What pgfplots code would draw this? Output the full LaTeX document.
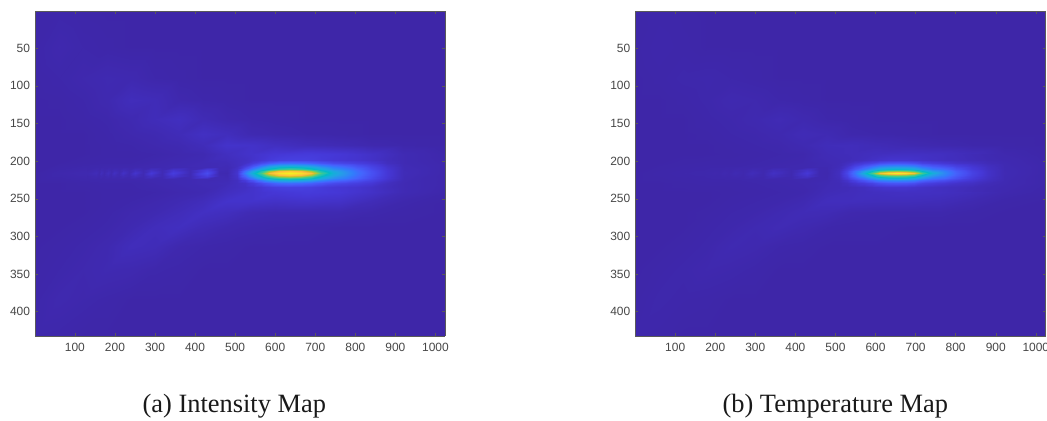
\documentclass[border=0pt]{standalone}
\usepackage{fontspec}
\setmainfont{Liberation Sans}
\newfontfamily\capfont{Liberation Serif}
\usepackage{pgfplots}
\pgfplotsset{compat=1.18}
\pgfplotsset{colormap={parula}{
rgb=(0.2422,0.1504,0.6603) rgb=(0.2706,0.2147,0.8364) rgb=(0.2813,0.3006,0.9414) rgb=(0.2699,0.3892,0.9906)
rgb=(0.1963,0.4847,0.9892) rgb=(0.1687,0.5703,0.9359) rgb=(0.1248,0.6459,0.8883) rgb=(0.0689,0.6948,0.8394)
rgb=(0.0067,0.7312,0.7660) rgb=(0.1408,0.7584,0.6842) rgb=(0.2161,0.7843,0.5923) rgb=(0.3909,0.8029,0.4354)
rgb=(0.6174,0.7876,0.2612) rgb=(0.8203,0.7498,0.1535) rgb=(0.9728,0.7298,0.2394) rgb=(0.9892,0.8136,0.1885)
rgb=(0.9597,0.9135,0.1423) rgb=(0.9769,0.9839,0.0805)}}
\definecolor{ticktext}{gray}{0.28}
\definecolor{tickline}{gray}{0.35}
\pgfplotsset{heat/.style={
  scale only axis, width=410.3bp, height=325bp,
  xmin=0.5, xmax=1024.5, ymin=0.5, ymax=432.5, y dir=reverse,
  view={0}{90}, axis on top, colormap name=parula,
  point meta min=0, point meta max=1,
  xtick={100,200,...,1000}, ytick={50,100,...,400},
  tick align=inside, major tick length=3bp,
  xticklabel pos=lower, yticklabel pos=left,
  tick style={tickline,line width=0.4bp},
  axis line style={tickline,line width=0.5bp},
  tick label style={font=\fontsize{12}{12}\selectfont,text=ticktext},
  x tick label style={yshift=-3.5bp},
  y tick label style={xshift=-1.5bp},
  /pgf/number format/assume math mode=true,
  /pgf/number format/1000 sep={},
}}
\newcommand\bgx{1,60,120,180,240,300,360,420,480,540,600,680,760,840,920,1024}
\newcommand\bgy{1,49,89,119,144,164,179,191,203,216,229,241,253,268,288,313,343,383,432}
\newcommand\lay{191,198,203,207,210,213,216,219,222,225,229,234,241}
\newcommand\lax{480,505,525,545,565,585,610,637,665,690,715,745,775,805,840,880,920}
\newcommand\lbx{480,510,530,550,570,590,610,630,653,677,695,715,740,770,800,840,880,920}
\newcommand\dtx{130,153,159,165,173,182,190,198,210,221,235,250,270,291,318,345,388,430,460,480}
\newcommand\dty{208,212,216,220,224}
\def\popv#1,#2\endpop{\gdef\val{#1}\gdef\rest{#2}}
\def\colloop#1,{\ifx\relax#1\relax\else\expandafter\popv\rest\endpop\xdef\acc{\acc(#1,\cy,\val)}\expandafter\colloop\fi}
\def\rowloop#1,{\ifx\relax#1\relax\else\gdef\cy{#1}\expandafter\colloop\curxl,\relax,\expandafter\rowloop\fi}
\newcommand\Lay[4]{\gdef\acc{}\gdef\rest{#4}\edef\curxl{#1}\edef\curyl{#2}%
  \expandafter\rowloop\curyl,\relax,%
  \edef\doit{\noexpand\addplot3[surf,shader=interp,mesh/cols=#3] coordinates {\acc};}\doit}
\begin{document}
\begin{tikzpicture}[x=1bp,y=1bp]
\path[use as bounding box] (0,0) rectangle (1047,420);
\begin{axis}[heat,at={(35bp,84bp)},anchor=south west]
\Lay{\bgx}{\bgy}{16}{%
.001,.003,.001,0,0,0,0,0,0,0,0,0,0,0,0,0,%
.002,.008,.004,.002,0,0,0,0,0,0,0,0,0,0,0,0,%
.001,.004,.008,.012,.01,.004,.002,0,0,0,0,0,0,0,0,0,%
0,.001,.004,.01,.024,.02,.008,.004,.002,0,0,0,0,0,0,0,%
0,0,.002,.005,.012,.022,.03,.016,.008,.004,.002,0,0,0,0,0,%
0,0,0,.003,.008,.012,.02,.034,.026,.012,.008,.004,.002,0,0,0,%
0,0,0,.002,.004,.008,.012,.022,.045,.042,.032,.022,.016,.008,.004,0,%
0,0,0,.002,.002,.004,.008,.012,.03,.045,.06,.07,.06,.04,.015,.004,%
0,0,.002,.004,.004,.008,.012,.016,.02,.03,.04,.05,.04,.03,.015,.006,%
0,.006,.01,.012,.012,.014,.016,.016,.01,.06,.5,.5,.25,.1,.02,.006,%
0,0,.002,.004,.004,.008,.012,.016,.02,.03,.04,.05,.04,.03,.015,.006,%
0,0,0,.002,.002,.004,.008,.012,.03,.045,.06,.07,.06,.04,.015,.004,%
0,0,0,.002,.004,.008,.014,.024,.045,.045,.04,.045,.04,.02,.006,0,%
0,0,0,.003,.008,.012,.022,.034,.028,.016,.012,.012,.012,.006,.002,0,%
0,0,.002,.005,.012,.024,.03,.018,.01,.006,.004,.002,0,0,0,0,%
0,.002,.005,.01,.024,.02,.008,.004,.002,0,0,0,0,0,0,0,%
.001,.004,.008,.012,.01,.005,.003,0,0,0,0,0,0,0,0,0,%
.003,.009,.006,.003,0,0,0,0,0,0,0,0,0,0,0,0,%
.004,.003,0,0,0,0,0,0,0,0,0,0,0,0,0,0,%
}
\Lay{\lax}{\lay}{17}{%
.03,.036,.041,.046,.052,.056,.061,.065,.068,.069,.066,.062,.056,.05,.04,.028,.015,%
.025,.03,.035,.045,.055,.07,.08,.085,.085,.08,.07,.06,.055,.05,.04,.025,.015,%
.02,.03,.04,.07,.11,.15,.19,.2,.19,.17,.14,.11,.095,.08,.06,.03,.015,%
.017,.03,.07,.14,.23,.32,.38,.4,.38,.34,.27,.21,.175,.13,.09,.045,.018,%
.014,.04,.13,.25,.37,.48,.57,.6,.57,.5,.39,.29,.24,.175,.11,.055,.02,%
.012,.045,.2,.36,.52,.70,.83,.87,.83,.72,.52,.37,.285,.20,.125,.06,.02,%
.01,.05,.24,.42,.6,.82,.92,.96,.92,.84,.6,.40,.30,.21,.13,.06,.02,%
.012,.045,.2,.36,.52,.70,.83,.87,.83,.72,.52,.37,.285,.20,.125,.06,.02,%
.014,.04,.13,.25,.37,.48,.57,.6,.57,.5,.39,.29,.24,.175,.11,.055,.02,%
.017,.03,.07,.14,.23,.32,.38,.4,.38,.34,.27,.21,.175,.13,.09,.045,.018,%
.02,.03,.04,.07,.11,.15,.19,.2,.19,.17,.14,.11,.095,.08,.06,.03,.015,%
.025,.03,.035,.045,.055,.07,.08,.085,.085,.08,.07,.06,.055,.05,.04,.025,.015,%
.03,.036,.041,.046,.052,.056,.061,.065,.068,.069,.066,.062,.056,.05,.04,.028,.015,%
}
\Lay{\dtx}{\dty}{20}{%
.005,.006,.006,.006,.007,.007,.007,.007,.007,.007,.007,.008,.009,.01,.011,.012,.014,.016,.017,.016,%
.006,.012,.008,.014,.009,.015,.01,.017,.011,.02,.012,.026,.013,.036,.015,.05,.016,.08,.016,.014,%
.01,.02,.01,.024,.011,.027,.012,.032,.013,.038,.014,.048,.015,.062,.016,.075,.016,.115,.012,.01,%
.006,.012,.008,.014,.009,.015,.01,.017,.011,.02,.012,.026,.013,.036,.015,.05,.016,.08,.016,.014,%
.005,.006,.006,.006,.007,.007,.007,.007,.007,.007,.007,.008,.009,.01,.011,.012,.014,.016,.017,.016,%
}
\end{axis}
\begin{axis}[heat,at={(635.3bp,84bp)},anchor=south west]
\Lay{\bgx}{\bgy}{16}{%
.001,.002,.001,0,0,0,0,0,0,0,0,0,0,0,0,0,%
.001,.004,.002,0,0,0,0,0,0,0,0,0,0,0,0,0,%
0,.002,.005,.006,.004,.002,0,0,0,0,0,0,0,0,0,0,%
0,0,.002,.005,.01,.008,.004,.002,0,0,0,0,0,0,0,0,%
0,0,0,.003,.006,.01,.016,.01,.004,.002,0,0,0,0,0,0,%
0,0,0,.001,.004,.006,.01,.018,.014,.006,.004,.002,0,0,0,0,%
0,0,0,0,.002,.004,.006,.012,.022,.024,.018,.012,.008,.004,.002,0,%
0,0,0,0,.001,.002,.004,.006,.018,.024,.03,.034,.032,.022,.008,.002,%
0,0,.001,.002,.002,.004,.006,.008,.014,.03,.04,.05,.04,.03,.012,.004,%
0,.002,.004,.006,.006,.008,.01,.01,.008,.06,.5,.5,.25,.1,.015,.004,%
0,0,.001,.002,.002,.004,.006,.008,.014,.03,.04,.05,.04,.03,.012,.004,%
0,0,0,0,.001,.002,.004,.006,.018,.024,.03,.034,.032,.022,.008,.002,%
0,0,0,0,.002,.004,.006,.012,.026,.026,.024,.024,.02,.01,.002,0,%
0,0,0,.001,.004,.006,.012,.018,.016,.008,.006,.006,.006,.002,0,0,%
0,0,0,.003,.006,.012,.016,.01,.004,.002,.002,0,0,0,0,0,%
0,0,.002,.005,.012,.009,.004,.002,0,0,0,0,0,0,0,0,%
0,.002,.005,.008,.006,.003,0,0,0,0,0,0,0,0,0,0,%
.001,.005,.003,.002,0,0,0,0,0,0,0,0,0,0,0,0,%
.003,.002,0,0,0,0,0,0,0,0,0,0,0,0,0,0,%
}
\Lay{\lbx}{\lay}{18}{%
.018,.02,.022,.024,.026,.028,.03,.032,.034,.034,.034,.034,.032,.03,.025,.018,.012,.008,%
.016,.018,.02,.025,.03,.038,.045,.05,.05,.05,.045,.04,.035,.03,.027,.02,.014,.01,%
.014,.018,.03,.05,.07,.09,.12,.135,.14,.135,.12,.09,.075,.06,.045,.035,.02,.012,%
.012,.02,.045,.09,.14,.19,.25,.27,.28,.27,.25,.19,.15,.12,.085,.055,.03,.014,%
.011,.025,.07,.14,.22,.31,.39,.43,.44,.43,.39,.31,.23,.19,.125,.07,.035,.015,%
.01,.028,.09,.2,.33,.47,.62,.68,.7,.68,.62,.47,.33,.25,.16,.085,.04,.015,%
.008,.03,.10,.22,.40,.60,.83,.92,.96,.92,.83,.60,.40,.27,.17,.09,.04,.015,%
.01,.028,.09,.2,.33,.47,.62,.68,.7,.68,.62,.47,.33,.25,.16,.085,.04,.015,%
.011,.025,.07,.14,.22,.31,.39,.43,.44,.43,.39,.31,.23,.19,.125,.07,.035,.015,%
.012,.02,.045,.09,.14,.19,.25,.27,.28,.27,.25,.19,.15,.12,.085,.055,.03,.014,%
.014,.018,.03,.05,.07,.09,.12,.135,.14,.135,.12,.09,.075,.06,.045,.035,.02,.012,%
.016,.018,.02,.025,.03,.038,.045,.05,.05,.05,.045,.04,.035,.03,.027,.02,.014,.01,%
.018,.02,.022,.024,.026,.028,.03,.032,.034,.034,.034,.034,.032,.03,.025,.018,.012,.008,%
}
\Lay{\dtx}{\dty}{20}{%
.002,.003,.003,.003,.003,.003,.004,.004,.004,.004,.005,.005,.006,.006,.007,.007,.008,.009,.01,.01,%
.003,.004,.004,.004,.004,.005,.005,.005,.005,.007,.006,.009,.007,.014,.008,.024,.01,.042,.011,.009,%
.004,.005,.005,.005,.005,.006,.006,.007,.006,.01,.007,.014,.008,.022,.009,.035,.01,.06,.01,.008,%
.003,.004,.004,.004,.004,.005,.005,.005,.005,.007,.006,.009,.007,.014,.008,.024,.01,.042,.011,.009,%
.002,.003,.003,.003,.003,.003,.004,.004,.004,.004,.005,.005,.006,.006,.007,.007,.008,.009,.01,.01,%
}
\end{axis}
\node[anchor=base,font=\capfont\fontsize{26.5}{26.5}\selectfont,text=black!90] at (234.3,8) {(a) Intensity Map};
\node[anchor=base,font=\capfont\fontsize{26.5}{26.5}\selectfont,text=black!90] at (835.3,8) {(b) Temperature Map};
\end{tikzpicture}
\end{document}
